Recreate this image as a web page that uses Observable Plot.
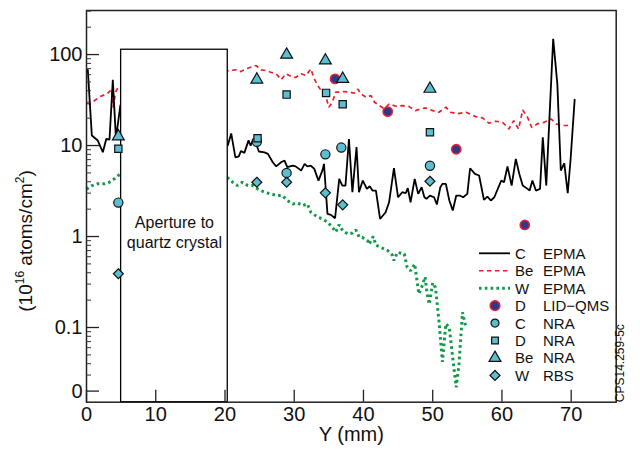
<!DOCTYPE html>
<html>
<head>
<meta charset="utf-8">
<script src="https://cdn.jsdelivr.net/npm/d3@7"></script>
<script src="https://cdn.jsdelivr.net/npm/@observablehq/plot@0.6"></script>
<style>
  html, body { margin: 0; padding: 0; background: white; }
  #chart { position: relative; width: 640px; height: 453px; }
</style>
</head>
<body>
<div id="chart"></div>
<script>
// ---------- data (Y in mm, values in 10^16 atoms/cm^2) ----------
const cEpmaX = [0.19,0.77,1.63,2.36,2.85,3.32,3.8,4.25,4.9,
  20.4,20.9,21.5,22.0,22.3,22.8,23.4,23.7,24.1,24.5,24.9,25.7,26.2,26.9,27.4,28.1,28.6,29.0,29.8,30.2,
  31.0,31.5,31.9,32.4,32.9,33.5,34.1,34.3,34.8,35.3,35.9,36.5,36.95,37.4,37.9,38.4,39.0,39.35,39.9,
  40.5,40.9,41.3,41.8,42.4,43.2,43.7,44.4,45.0,45.6,46.1,46.4,46.8,47.4,47.9,48.4,48.8,49.1,49.6,
  50.2,50.6,51.1,51.4,51.9,52.4,52.9,53.4,53.9,54.4,55.0,55.4,56.1,56.7,57.4,57.9,58.4,58.9,59.4,
  59.9,60.3,60.8,61.4,62.0,62.5,63.0,63.7,64.0,64.4,64.9,65.5,65.9,66.4,67.4,68.0,68.5,69.0,69.5,69.9,70.5];
const cEpmaV = [67.9,12.9,11.35,8.44,11.8,11.6,52.7,12,28,
  10,13.6,7.4,7.6,8.7,8.3,11.4,10,11.8,10.4,8.6,8.4,8.1,6.55,5.9,6.55,6.84,5.78,6.03,5.9,
  5.31,6.28,5.9,6.0,5.54,4.12,5.4,6.28,1.77,1.73,1.59,4.3,3.63,3.63,11.8,3.07,9.6,3.07,4.12,
  3.34,3.57,3.2,3.2,1.56,1.85,2.38,5.63,2.70,3.07,2.99,3.40,2.38,4.3,2.94,3.48,2.70,2.6,2.82,
  2.70,2.25,3.48,3.79,3.79,2.49,1.93,2.82,2.82,2.70,2.94,5.63,4.89,4.68,2.53,2.75,2.49,2.70,3.34,
  4.12,3.95,5.88,3.63,7.14,4.89,3.63,3.34,3.2,4.12,3.2,3.34,12.3,3.63,149,47.6,5.31,6.39,2.99,6.84,32];

const beEpmaX = [0,0.5,2.0,3.0,3.7,3.85,4.2,4.4,
  20.6,21.6,22.3,23.0,23.7,24.5,25.2,25.9,26.6,27.4,28.1,28.8,29.5,30.2,31.0,31.7,32.4,32.9,33.4,33.9,
  34.6,35.0,35.5,36.0,36.5,37.1,38.0,38.7,39.2,39.6,40.4,41.1,41.6,42.3,43.0,43.7,44.7,45.6,46.6,47.5,
  48.3,49.0,50.0,50.9,51.9,52.6,53.6,54.8,56.2,57.2,58.1,59.1,60.1,61.0,61.7,62.4,63.0,63.7,64.3,65.1,
  66.1,67.1,67.8,68.7,69.9];
const beEpmaV = [29,28.7,34.6,37.2,41.7,26.3,38.6,41.7,
  66.7,68,65,69.5,72.5,75.7,68,66.7,64,61.5,53,61.5,57.6,56,61.5,58.8,69.5,54,45.6,40.2,
  33.9,26.4,29.9,38.6,38.6,39.2,38.6,37.6,41.7,37,33.9,35.4,29.9,27.5,25.3,28.6,27,27.5,26.8,24.2,
  25.3,25.9,24.2,23.2,26.4,23.2,22.4,23.2,20.8,20.1,17.6,18.5,18.0,15.2,18.8,15.2,24.6,20.4,15.8,17.3,
  18.0,19.6,17.3,16.6,16.6];

const wEpmaX = [0,0.7,1.6,2.6,3.3,4.0,4.6,5.0,
  20.4,21.1,21.8,22.5,23.3,24.0,24.7,25.7,26.6,27.6,28.3,29.0,29.8,30.5,31.2,31.9,32.4,33.4,34.1,34.8,
  35.5,36.0,36.5,37.0,37.7,38.4,38.9,39.4,39.8,40.6,40.8,41.4,41.8,42.5,43.5,44.2,44.4,44.9,45.9,46.3,
  46.8,47.4,48.0,48.5,48.9,49.2,49.5,50.0,50.4,50.9,51.4,51.9,52.4,52.8,53.4,53.8,54.3,54.8];
const wEpmaV = [3.3,3.6,3.8,3.8,3.95,4.3,4.7,4.9,
  4.41,3.95,3.63,3.95,3.63,3.63,3.34,3.07,2.94,2.82,2.82,2.49,2.28,2.34,2.19,2.28,1.85,1.63,1.56,1.44,
  1.27,1.12,1.35,1.16,1.07,1.09,1.18,0.98,0.98,0.90,0.82,1.0,0.80,0.76,0.70,0.62,0.545,0.67,0.645,0.46,
  0.42,0.50,0.234,0.29,0.36,0.234,0.18,0.31,0.275,0.119,0.042,0.11,0.10,0.053,0.022,0.040,0.147,0.10];

const lidX = [35.9, 43.5, 53.4, 63.3];
const lidV = [54, 23.6, 9.1, 1.34];
const cNraX = [4.6, 24.6, 28.9, 34.5, 36.8, 49.6];
const cNraV = [2.36, 11, 5.0, 8.0, 9.5, 6.0];
const dNraX = [4.6, 24.7, 28.9, 34.6, 37.0, 49.6];
const dNraV = [9.2, 12.0, 36.3, 37.9, 28.5, 14.0];
const beNraX = [4.6, 24.6, 28.9, 34.5, 37.0, 49.6];
const beNraV = [12.6, 53, 99.5, 86, 54, 42];
const wRbsX = [4.6, 24.6, 28.9, 34.5, 37.0, 49.6];
const wRbsV = [0.39, 3.95, 3.95, 3.02, 2.23, 4.05];

const apertureX = [5, 20.4];
const apertureTop = [113];
const apertureLabel = ["Aperture to\nquartz crystal"];
const apertureLabelY = [1.13];

const xTicks = [0, 10, 20, 30, 40, 50, 60, 70];
const yTicks = [0.02, 0.1, 1, 10, 100];
const yTickLabels = ["0", "0.1", "1", "10", "100"];
const yMinor = [0.03,0.04,0.05,0.06,0.07,0.08,0.09,0.2,0.3,0.4,0.5,0.6,0.7,0.8,0.9,
  2,3,4,5,6,7,8,9,20,30,40,50,60,70,80,90,200,300];

const legendA = ["C", "Be", "W", "D", "C", "D", "Be", "W"];
const legendB = ["EPMA", "EPMA", "EPMA", "LID\u2212QMS", "NRA", "NRA", "NRA", "RBS"];

// ---------- build ----------
const zip = (xs, vs) => xs.map((x, i) => ({x, v: vs[i]}));
const cEpma = zip(cEpmaX, cEpmaV), beEpma = zip(beEpmaX, beEpmaV), wEpma = zip(wEpmaX, wEpmaV);
const lid = zip(lidX, lidV), cNra = zip(cNraX, cNraV), dNra = zip(dNraX, dNraV);
const beNra = zip(beNraX, beNraV), wRbs = zip(wRbsX, wRbsV);
const aperture = [{x1: apertureX[0], x2: apertureX[1], top: apertureTop[0], label: apertureLabel[0], ly: apertureLabelY[0]}];

const yDomain = [0.0151, 305];
const cyan = "#5cbfd1", navy = "#2c3a8e", red = "#e8202a", green = "#129a48";
const mk = {stroke: "#111", strokeWidth: 1.2, fill: cyan};
const tickLabelMap = new Map(yTicks.map((t, i) => [t, yTickLabels[i]]));
const greenDash = "2.6,3.2", redDash = "4.5,3.5";

const chart = Plot.plot({
  width: 640, height: 453,
  marginLeft: 86, marginRight: 24.3, marginTop: 10, marginBottom: 51.3,
  x: {domain: [0, 76.5]},
  y: {type: "log", domain: yDomain},
  style: {fontFamily: "'Liberation Sans', Arial, Helvetica, sans-serif", background: "white", overflow: "visible", color: "#111"},
  marks: [
    Plot.line(wEpma, {x: "x", y: "v", stroke: green, strokeWidth: 3, strokeDasharray: greenDash, strokeLinecap: "butt", strokeLinejoin: "miter"}),
    Plot.line(beEpma, {x: "x", y: "v", stroke: red, strokeWidth: 1.7, strokeDasharray: redDash, strokeLinecap: "butt", strokeLinejoin: "miter"}),
    Plot.line(cEpma, {x: "x", y: "v", stroke: "#000", strokeWidth: 1.8, strokeLinejoin: "miter"}),
    Plot.rect(aperture, {x1: "x1", x2: "x2", y1: () => yDomain[0], y2: "top", fill: "white", stroke: "#000", strokeWidth: 1.3}),
    Plot.text(aperture, {x: d => (d.x1 + d.x2) / 2, y: "ly", text: "label", fontSize: 16, lineHeight: 1.25, fill: "#111"}),
    Plot.dot(lid, {x: "x", y: "v", symbol: "circle", r: 4.6, fill: navy, stroke: red, strokeWidth: 1.6}),
    Plot.dot(cNra, {x: "x", y: "v", symbol: "circle", r: 4.6, ...mk}),
    Plot.dot(dNra, {x: "x", y: "v", symbol: "square", r: 4.1, ...mk}),
    Plot.dot(beNra, {x: "x", y: "v", symbol: "triangle", r: 4.4, ...mk}),
    Plot.dot(wRbs, {x: "x", y: "v", symbol: "diamond2", r: 4.5, ...mk}),
    Plot.frame({stroke: "#222", strokeWidth: 1.5}),
    Plot.axisX(xTicks, {anchor: "bottom", tickSize: -12, tickPadding: 17, fontSize: 20, label: null, stroke: "#222", strokeWidth: 1.3}),
    Plot.axisY(yTicks, {anchor: "left", tickSize: -13, tickPadding: 17, fontSize: 20, label: null, stroke: "#222", strokeWidth: 1.3, tickFormat: d => tickLabelMap.get(d)}),
    Plot.axisY(yMinor, {anchor: "left", tickSize: -5, tickPadding: 10, label: null, stroke: "#333", tickFormat: () => ""}),
    Plot.text(["Y (mm)"], {frameAnchor: "bottom", dy: 39, fontSize: 20, fill: "#111"}),
    Plot.text(["CPS14.259-5c"], {frameAnchor: "bottom-right", rotate: -90, textAnchor: "start", dx: 8, fontSize: 12, fill: "#111"})
  ]
});

document.getElementById("chart").appendChild(chart);

// ---------- y axis title with superscripts ----------
const svg = d3.select(chart);
const yt = svg.append("text")
  .attr("transform", "translate(32,241) rotate(-90)")
  .attr("text-anchor", "middle")
  .attr("font-size", 19)
  .attr("fill", "#111");
yt.append("tspan").text("(10");
yt.append("tspan").attr("font-size", 12).attr("dy", -8).text("16");
yt.append("tspan").attr("dy", 8).text(" atoms/cm");
yt.append("tspan").attr("font-size", 12).attr("dy", -8).text("2");
yt.append("tspan").attr("dy", 8).text(")");

// ---------- legend ----------
const lg = svg.append("g").attr("font-size", 15).attr("fill", "#111").attr("text-anchor", "start");
const rowY = i => 253.3 + i * 17.45;
const symSize = r => Math.PI * r * r;
const legendDraw = [
  g => g.append("line").attr("x1", 479).attr("x2", 510).attr("stroke", "#000").attr("stroke-width", 1.8),
  g => g.append("line").attr("x1", 479).attr("x2", 510).attr("stroke", red).attr("stroke-width", 1.7).attr("stroke-dasharray", redDash),
  g => g.append("line").attr("x1", 479).attr("x2", 510).attr("stroke", green).attr("stroke-width", 3).attr("stroke-dasharray", greenDash),
  g => g.append("path").attr("transform", "translate(495,0)").attr("d", d3.symbol(d3.symbolCircle, symSize(4.8))()).attr("fill", navy).attr("stroke", red).attr("stroke-width", 1.6),
  g => g.append("path").attr("transform", "translate(495,0)").attr("d", d3.symbol(d3.symbolCircle, symSize(4))()).attr("fill", cyan).attr("stroke", "#111").attr("stroke-width", 1.2),
  g => g.append("path").attr("transform", "translate(495,0)").attr("d", d3.symbol(d3.symbolSquare, symSize(3.8))()).attr("fill", cyan).attr("stroke", "#111").attr("stroke-width", 1.2),
  g => g.append("path").attr("transform", "translate(495,0)").attr("d", d3.symbol(d3.symbolTriangle, symSize(4.4))()).attr("fill", cyan).attr("stroke", "#111").attr("stroke-width", 1.2),
  g => g.append("path").attr("transform", "translate(495,0)").attr("d", d3.symbol(d3.symbolDiamond2, symSize(4.5))()).attr("fill", cyan).attr("stroke", "#111").attr("stroke-width", 1.2)
];
legendA.forEach((a, i) => {
  const g = lg.append("g").attr("transform", `translate(0,${rowY(i)})`);
  legendDraw[i](g);
  g.append("text").attr("x", 515).attr("dy", "0.36em").text(a);
  g.append("text").attr("x", 543).attr("dy", "0.36em").text(legendB[i]);
});
</script>
</body>
</html>
